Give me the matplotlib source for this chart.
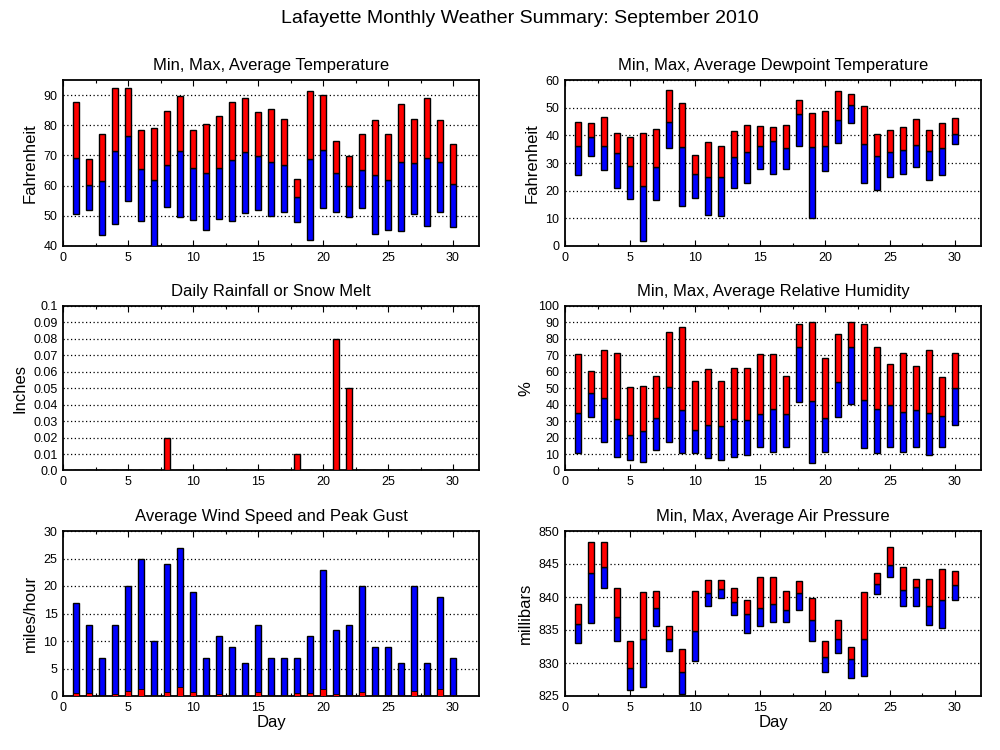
import matplotlib
matplotlib.use("Agg")
import matplotlib.pyplot as plt
import numpy as np
from matplotlib.ticker import MultipleLocator, FixedLocator

plt.rcParams['font.family'] = ['Liberation Sans', 'DejaVu Sans']

days = list(range(1, 31))

temp_max = [87.6, 68.7, 77.0, 92.2, 92.5, 78.4, 79.0, 84.6, 89.8, 78.4,
            80.3, 83.0, 87.6, 88.9, 84.3, 85.3, 82.1, 62.2, 91.2, 90.2,
            74.7, 69.8, 77.0, 81.6, 77.0, 86.9, 82.0, 89.2, 81.6, 73.7]
temp_avg = [69.3, 60.1, 61.4, 71.6, 76.4, 65.4, 61.9, 66.8, 71.6, 65.8,
            64.2, 66.0, 68.4, 71.1, 69.8, 68.0, 66.8, 56.3, 68.8, 71.8,
            64.2, 59.9, 65.2, 63.5, 61.9, 67.8, 67.5, 69.1, 67.8, 60.5]
temp_min = [50.7, 51.9, 43.7, 47.4, 54.9, 48.4, 40.0, 53.0, 49.7, 48.7,
            45.4, 49.0, 48.4, 51.0, 52.0, 50.0, 51.3, 48.0, 42.1, 52.6,
            51.3, 49.7, 52.6, 44.1, 45.4, 45.1, 50.7, 46.7, 51.3, 46.4]

dew_max = [44.9, 44.5, 46.6, 40.9, 39.3, 40.9, 42.2, 56.5, 51.7, 33.0,
           37.6, 36.3, 41.5, 43.7, 43.3, 43.0, 43.8, 52.9, 48.2, 48.9,
           56.2, 55.1, 50.7, 40.5, 42.0, 43.0, 46.0, 42.0, 44.5, 46.3]
dew_avg = [36.3, 39.4, 36.0, 33.5, 29.0, 21.8, 28.4, 44.9, 35.7, 26.1,
           25.0, 25.0, 32.0, 33.9, 36.3, 37.9, 35.6, 47.8, 35.7, 36.1,
           45.6, 51.1, 36.8, 32.4, 33.9, 34.6, 36.5, 34.3, 35.4, 40.5]
dew_min = [25.5, 32.4, 27.4, 21.1, 17.1, 1.7, 16.7, 35.4, 14.5, 17.4,
           11.2, 10.9, 21.1, 22.9, 28.0, 25.9, 28.0, 36.1, 10.1, 27.0,
           37.2, 44.5, 22.9, 20.4, 25.1, 26.2, 28.4, 23.7, 25.5, 36.8]

rain = [0, 0, 0, 0, 0, 0, 0, 0.02, 0, 0,
        0, 0, 0, 0, 0, 0, 0, 0.01, 0, 0,
        0.08, 0.05, 0, 0, 0, 0, 0, 0, 0, 0]

hum_max = [70.9, 60.6, 73.0, 71.7, 51.0, 51.6, 57.7, 83.9, 87.0, 54.5,
           62.0, 54.5, 62.6, 62.6, 71.1, 71.1, 57.7, 88.8, 90.0, 68.1,
           82.7, 90.0, 88.8, 74.8, 65.0, 71.7, 63.8, 73.0, 57.1, 71.7]
hum_avg = [35.0, 47.4, 44.1, 31.5, 21.5, 24.2, 32.1, 51.0, 37.0, 24.8,
           27.8, 27.2, 31.5, 30.9, 34.6, 37.6, 34.6, 74.8, 42.5, 32.1,
           53.5, 74.8, 43.1, 37.6, 40.0, 35.8, 37.0, 35.2, 33.3, 50.4]
hum_min = [10.8, 32.7, 17.1, 8.3, 6.5, 5.3, 12.6, 17.5, 10.8, 10.8,
           7.7, 6.5, 8.3, 9.6, 14.4, 11.4, 14.4, 41.9, 4.7, 11.4,
           32.7, 40.7, 13.8, 10.8, 14.4, 11.4, 14.4, 9.6, 14.4, 27.8]

wind_gust = [17, 13, 7, 13, 20, 25, 10, 24, 27, 19,
             7, 11, 9, 6, 13, 7, 7, 7, 11, 23,
             12, 13, 20, 9, 9, 6, 20, 6, 18, 7]
wind_avg = [0.5, 0.5, 0.1, 0.4, 1.0, 1.2, 0.1, 0.7, 1.6, 0.7,
            0.1, 0.4, 0.1, 0.1, 0.7, 0.1, 0.1, 0.5, 0.5, 1.2,
            0.4, 0.1, 0.7, 0.1, 0.1, 0.1, 0.85, 0.1, 1.2, 0.1]

pres_max = [839.0, 848.4, 848.3, 841.3, 833.3, 840.7, 840.9, 835.6, 832.1, 840.9,
            842.5, 842.5, 841.3, 839.5, 843.1, 843.0, 840.9, 842.4, 839.8, 833.3,
            836.5, 832.4, 840.7, 843.7, 847.5, 844.5, 842.8, 842.8, 844.3, 843.9]
pres_avg = [835.9, 843.7, 844.6, 836.9, 829.3, 833.7, 838.3, 833.7, 828.6, 834.9,
            840.6, 841.2, 839.3, 837.4, 838.4, 839.0, 838.1, 840.6, 836.5, 830.9,
            833.7, 830.6, 833.6, 841.9, 844.9, 841.0, 841.5, 838.7, 839.6, 841.8]
pres_min = [833.0, 836.0, 841.3, 833.3, 825.9, 826.3, 835.6, 831.8, 825.3, 830.3,
            838.7, 839.8, 837.2, 834.6, 835.6, 836.2, 836.2, 838.1, 833.3, 828.7,
            831.5, 827.8, 828.0, 840.4, 843.1, 838.7, 838.7, 835.7, 835.3, 839.5]

RED = '#ff0000'
BLUE = '#0000ff'
BW = 0.5

fig = plt.figure(figsize=(10, 7.5), dpi=100)
fig.text(0.52, 0.975, 'Lafayette Monthly Weather Summary: September 2010',
         ha='center', va='center', fontsize=14)

L1, L2, W = 0.063, 0.565, 0.416
rows = [(0.672, 0.2213), (0.3727, 0.2193), (0.072, 0.22)]


def style(ax, ylim, ystep, title, ylabel, xlabel=None, ylabels=None):
    ax.set_xlim(0, 32)
    ax.set_ylim(*ylim)
    ax.xaxis.set_major_locator(MultipleLocator(5))
    ax.xaxis.set_minor_locator(MultipleLocator(2.5))
    if ylabels is not None:
        ax.yaxis.set_major_locator(FixedLocator(ylabels[0]))
        ax.set_yticklabels(ylabels[1])
    else:
        ax.yaxis.set_major_locator(MultipleLocator(ystep))
    ax.tick_params(axis='x', which='major', direction='in', length=4,
                   top=True, bottom=True, labelsize=9, width=0.8, pad=4)
    ax.tick_params(axis='x', which='minor', direction='in', length=2,
                   top=True, bottom=True, width=0.8)
    ax.tick_params(axis='y', which='major', direction='in', length=0,
                   labelsize=9, pad=4)
    ax.grid(axis='y', which='major', linestyle=(0, (1, 2)), color='black',
            linewidth=0.9)
    ax.set_axisbelow(True)
    for s in ax.spines.values():
        s.set_linewidth(1.3)
    ax.set_title(title, fontsize=12, pad=7)
    ax.set_ylabel(ylabel, fontsize=12, labelpad=4)
    if xlabel:
        ax.set_xlabel(xlabel, fontsize=12, labelpad=1)


def floating(ax, mn, av, mx):
    mn = np.array(mn); av = np.array(av); mx = np.array(mx)
    ax.bar(days, av - mn, bottom=mn, width=BW, color=BLUE,
           edgecolor='black', linewidth=1.0, zorder=3)
    ax.bar(days, mx - av, bottom=av, width=BW, color=RED,
           edgecolor='black', linewidth=1.0, zorder=3)


# Temperature
ax = fig.add_axes([L1, rows[0][0], W, rows[0][1]])
floating(ax, temp_min, temp_avg, temp_max)
style(ax, (40, 95), 10, 'Min, Max, Average Temperature', 'Fahrenheit')

# Dewpoint
ax = fig.add_axes([L2, rows[0][0], W, rows[0][1]])
floating(ax, dew_min, dew_avg, dew_max)
style(ax, (0, 60), 10, 'Min, Max, Average Dewpoint Temperature', 'Fahrenheit')

# Rain
ax = fig.add_axes([L1, rows[1][0], W, rows[1][1]])
ax.bar(days, rain, width=BW, color=RED, edgecolor='black', linewidth=1.0, zorder=3)
rticks = [i / 100 for i in range(11)]
rlabels = ['0.0'] + ['%.2f' % t for t in rticks[1:10]] + ['0.1']
style(ax, (0, 0.1), None, 'Daily Rainfall or Snow Melt', 'Inches',
      ylabels=(rticks, rlabels))

# Humidity
ax = fig.add_axes([L2, rows[1][0], W, rows[1][1]])
floating(ax, hum_min, hum_avg, hum_max)
style(ax, (0, 100), 10, 'Min, Max, Average Relative Humidity', '%')

# Wind
ax = fig.add_axes([L1, rows[2][0], W, rows[2][1]])
ax.bar(days, wind_gust, width=BW, color=BLUE, edgecolor='black', linewidth=1.0, zorder=3)
ax.bar(days, wind_avg, width=BW, color=RED, edgecolor='black', linewidth=0.6, zorder=3)
style(ax, (0, 30), 5, 'Average Wind Speed and Peak Gust', 'miles/hour', xlabel='Day')

# Pressure
ax = fig.add_axes([L2, rows[2][0], W, rows[2][1]])
floating(ax, pres_min, pres_avg, pres_max)
style(ax, (825, 850), 5, 'Min, Max, Average Air Pressure', 'millibars', xlabel='Day')

fig.savefig('out.png', dpi=100)
